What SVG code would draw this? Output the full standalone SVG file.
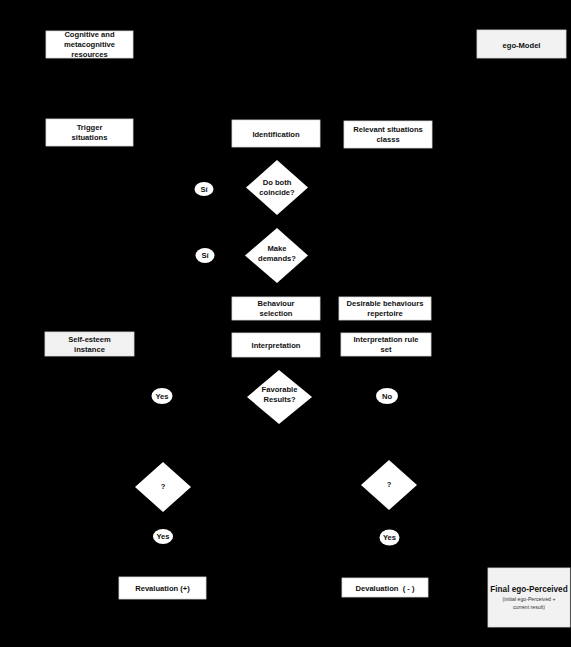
<svg xmlns="http://www.w3.org/2000/svg" width="571" height="647" viewBox="0 0 571 647">
<defs>
<marker id="arr" viewBox="0 0 10 10" refX="9" refY="5" markerWidth="5" markerHeight="5" orient="auto"><path d="M0,0 L10,5 L0,10 z" fill="#000"/></marker>
<style>
.box{fill:#fff;stroke:#d9d9d9;stroke-width:0.8}
.gbox{fill:#f2f2f2;stroke:#d9d9d9;stroke-width:0.8}
.dia{fill:#fff}
.t{font-family:"Liberation Sans",Arial,sans-serif;font-weight:bold;font-size:7.6px;fill:#111;text-anchor:middle}
.s{font-family:"Liberation Sans",Arial,sans-serif;font-size:5.2px;fill:#333;text-anchor:middle}
.c{fill:none;stroke:#000;stroke-width:1;marker-end:url(#arr)}
</style>
</defs>
<rect x="0" y="0" width="571" height="647" fill="#000"/>
<g id="connectors">
<path class="c" d="M89,58 V119"/>
<path class="c" d="M133,133 H232"/>
<path class="c" d="M344,134 H320"/>
<path class="c" d="M276,147 V160"/>
<path class="c" d="M277,215 V229"/>
<path class="c" d="M277,283 V297"/>
<path class="c" d="M339,309 H320"/>
<path class="c" d="M276,320 V333"/>
<path class="c" d="M341,345 H320"/>
<path class="c" d="M276,357 V370"/>
<path class="c" d="M247,397 H173"/>
<path class="c" d="M312,397 H376"/>
<path class="c" d="M162,404 V462"/>
<path class="c" d="M387,404 V460"/>
<path class="c" d="M163,512 V529"/>
<path class="c" d="M389,510 V530"/>
<path class="c" d="M163,545 V577"/>
<path class="c" d="M389,546 V578"/>
<path class="c" d="M522,568 V58"/>
</g>
<g id="cognitive"><rect class="box" x="46" y="31" width="87" height="27"/>
<text class="t" x="89.5" y="37">Cognitive and</text><text class="t" x="89.5" y="47">metacognitive</text><text class="t" x="89.5" y="57">resources</text></g>
<g id="egomodel"><rect class="gbox" x="477" y="30" width="89" height="28"/>
<text class="t" x="521.5" y="47.5">ego-Model</text></g>
<g id="trigger"><rect class="box" x="46" y="119" width="87" height="27"/>
<text class="t" x="89.5" y="130">Trigger</text><text class="t" x="89.5" y="140">situations</text></g>
<g id="identification"><rect class="box" x="232" y="120" width="88" height="27"/>
<text class="t" x="276" y="136.5">Identification</text></g>
<g id="relevant"><rect class="box" x="344" y="121" width="88" height="27"/>
<text class="t" x="388" y="132">Relevant situations</text><text class="t" x="388" y="142">classs</text></g>
<g id="coincide"><path class="dia" d="M277,160 L308,187.5 L277,215 L246,187.5 Z"/>
<text class="t" x="277" y="185">Do both</text><text class="t" x="277" y="195">coincide?</text></g>
<g id="si1"><ellipse class="dia" cx="204" cy="189" rx="9.5" ry="7"/>
<text class="t" x="204" y="191.5">Sí</text></g>
<g id="demands"><path class="dia" d="M277,228 L308,255.5 L277,283 L245,255.5 Z"/>
<text class="t" x="277" y="251">Make</text><text class="t" x="277" y="261">demands?</text></g>
<g id="si2"><ellipse class="dia" cx="205" cy="255.5" rx="9.5" ry="7.5"/>
<text class="t" x="205" y="258">Sí</text></g>
<g id="behaviour"><rect class="box" x="232" y="297" width="88" height="23"/>
<text class="t" x="276" y="306">Behaviour</text><text class="t" x="276" y="316">selection</text></g>
<g id="desirable"><rect class="box" x="339" y="297" width="92" height="23"/>
<text class="t" x="385" y="305.5">Desirable behaviours</text><text class="t" x="385" y="315.5">repertoire</text></g>
<g id="selfesteem"><rect class="gbox" x="45" y="332" width="89" height="24"/>
<text class="t" x="89.5" y="341.5">Self-esteem</text><text class="t" x="89.5" y="351.5">instance</text></g>
<g id="interpretation"><rect class="box" x="232" y="333" width="88" height="24"/>
<text class="t" x="276" y="347.5">Interpretation</text></g>
<g id="ruleset"><rect class="box" x="341" y="333" width="90" height="23"/>
<text class="t" x="386" y="341.5">Interpretation rule</text><text class="t" x="386" y="351.5">set</text></g>
<g id="favorable"><path class="dia" d="M279,370 L312,397 L279,424 L247,397 Z"/>
<text class="t" x="279.5" y="391.5">Favorable</text><text class="t" x="279.5" y="401.5">Results?</text></g>
<g id="yes1"><ellipse class="dia" cx="162" cy="396" rx="10.5" ry="8"/>
<text class="t" x="162" y="398.5">Yes</text></g>
<g id="no"><ellipse class="dia" cx="387" cy="396" rx="11" ry="8"/>
<text class="t" x="387" y="398.5">No</text></g>
<g id="q1"><path class="dia" d="M163,462 L191,487 L163,512 L135,487 Z"/>
<text class="t" x="163" y="489">?</text></g>
<g id="q2"><path class="dia" d="M389,460 L417,485 L389,510 L361,485 Z"/>
<text class="t" x="389" y="487">?</text></g>
<g id="yes2"><ellipse class="dia" cx="163" cy="536.5" rx="10" ry="7.5"/>
<text class="t" x="163" y="539">Yes</text></g>
<g id="yes3"><ellipse class="dia" cx="389.5" cy="537.5" rx="10" ry="8"/>
<text class="t" x="389.5" y="540">Yes</text></g>
<g id="revaluation"><rect class="box" x="119" y="577" width="87" height="22"/>
<text class="t" x="162.5" y="591">Revaluation (+)</text></g>
<g id="devaluation"><rect class="box" x="342" y="578" width="86" height="19"/>
<text class="t" x="385" y="590.5" xml:space="preserve">Devaluation  ( - )</text></g>
<g id="final"><rect class="gbox" x="488" y="568" width="82" height="59"/>
<text class="t" x="529" y="592" style="font-size:8.2px">Final ego-Perceived</text>
<text class="s" x="529" y="601">(initial ego-Perceived +</text>
<text class="s" x="529" y="608.5">current result)</text></g>
</svg>
